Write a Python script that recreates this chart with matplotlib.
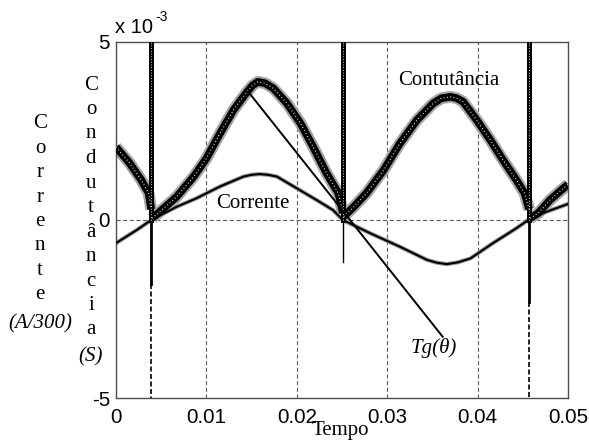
import numpy as np
import matplotlib
matplotlib.use("Agg")
import matplotlib.pyplot as plt

# ---------------- data (values in units of 1e-3) ----------------
# Conductance segments between spikes
g_t1 = [0.0000, 0.0015, 0.0028, 0.0036, 0.0039]
g_v1 = [2.05, 1.60, 1.12, 0.76, 0.30]
g_t2 = [0.0040, 0.0047, 0.0067, 0.0086, 0.0100, 0.0115, 0.0130, 0.0145, 0.0151, 0.0157,
        0.0165, 0.0174, 0.0189, 0.0204, 0.0218, 0.0233, 0.0246, 0.0251]
g_v2 = [0.05, 0.20, 0.65, 1.22, 1.73, 2.43, 3.09, 3.60, 3.78, 3.88,
        3.84, 3.70, 3.28, 2.72, 2.06, 1.31, 0.75, 0.20]
g_t3 = [0.0252, 0.0263, 0.0277, 0.0296, 0.0314, 0.0333, 0.0351, 0.0360, 0.0370, 0.0377,
        0.0384, 0.0399, 0.0414, 0.0428, 0.0443, 0.0452, 0.0457]
g_v3 = [0.10, 0.37, 0.75, 1.40, 2.15, 2.81, 3.28, 3.42, 3.46, 3.42,
        3.32, 2.81, 2.25, 1.69, 1.12, 0.75, 0.30]
g_t4 = [0.0458, 0.0467, 0.0480, 0.0499, 0.0500]
g_v4 = [0.05, 0.19, 0.56, 0.98, 1.00]

# Spikes of the conductance at current zero crossings
spike_t = [0.0039, 0.0251, 0.0457]
spike_solid_low = [-1.8, -1.17, -2.3]
spike_dash_low = [-5.0, None, -5.0]

# Current (A/300)
i_t = [0.0000, 0.0023, 0.0039, 0.0067, 0.0089, 0.0115, 0.0141, 0.0150, 0.0159, 0.0168,
       0.0178, 0.0200, 0.0222, 0.0240, 0.0251, 0.0281, 0.0314, 0.0344, 0.0355, 0.0366,
       0.0378, 0.0392, 0.0417, 0.0443, 0.0456, 0.0476, 0.0500]
i_v = [-0.65, -0.28, 0.00, 0.37, 0.61, 0.94, 1.22, 1.27, 1.29, 1.27,
       1.22, 0.89, 0.56, 0.28, 0.00, -0.37, -0.75, -1.12, -1.20, -1.24,
       -1.19, -1.08, -0.65, -0.23, 0.00, 0.23, 0.45]

# Tangent line
tg_t = [0.01464, 0.03614]
tg_v = [3.60, -3.28]

x_ticks = [0, 0.01, 0.02, 0.03, 0.04, 0.05]
x_tick_labels = ["0", "0.01", "0.02", "0.03", "0.04", "0.05"]
y_ticks = [-5, 0, 5]
y_tick_labels = ["-5", "0", "5"]

# ---------------- figure ----------------
W, H = 589, 443
fig = plt.figure(figsize=(W / 100, H / 100), dpi=100)
L, R, T, B = 116, 568, 42, 398
ax = fig.add_axes([L / W, 1 - B / H, (R - L) / W, (B - T) / H])
ax.set_xlim(0, 0.05)
ax.set_ylim(-5, 5)

serif = "Liberation Serif"
sans = "Liberation Sans"

gridc = "0.35"
for xv in [0.01, 0.02, 0.03, 0.04]:
    ax.axvline(xv, color=gridc, lw=0.8, ls=(0, (3.6, 2.4)), zorder=1)
ax.axhline(0, color=gridc, lw=0.8, ls=(0, (3.6, 2.4)), zorder=1)

# conductance (thick noisy-looking band)
for tt, vv in [(g_t1, g_v1), (g_t2, g_v2), (g_t3, g_v3), (g_t4, g_v4)]:
    ax.plot(tt, vv, color="0.65", lw=8.5, solid_capstyle="butt", zorder=2)
    ax.plot(tt, vv, color="black", lw=5.5, solid_capstyle="butt", zorder=3)
    ax.plot(tt, vv, color="white", lw=0.8, ls=(0, (0.8, 2.2)), zorder=4)

# spikes
for st, sl, dl in zip(spike_t, spike_solid_low, spike_dash_low):
    ax.plot([st, st], [0, 5.2], color="black", lw=3.6, zorder=3)
    ax.plot([st, st], [0, 5.2], color="white", lw=0.7, ls=(0, (0.8, 2)), zorder=4)
    ax.plot([st, st], [0, sl], color="black", lw=2.0 if dl is not None else 1.0, zorder=3)
    if dl is not None:
        ax.plot([st, st], [sl, dl], color="black", lw=1.2, ls=(0, (3, 1.5)), zorder=3)

# current
ax.plot(i_t, i_v, color="0.6", lw=3.0, zorder=2)
ax.plot(i_t, i_v, color="black", lw=1.5, zorder=3)

# tangent
ax.plot(tg_t, tg_v, color="black", lw=1.4, zorder=5)

# in-plot labels
ax.text(0.01515, 0.34, "Corrente", family=serif, fontsize=15, ha="center", va="baseline", zorder=6)
ax.text(0.03684, 3.79, "Contutância", family=serif, fontsize=15, ha="center", va="baseline", zorder=6)
ax.text(0.03518, -3.74, "Tg(θ)", family=serif, fontsize=15, style="italic", ha="center", va="baseline", zorder=6)

# axes styling
for s in ax.spines.values():
    s.set_color("0.3")
    s.set_linewidth(1.0)
ax.set_xticks(x_ticks)
ax.set_xticklabels(x_tick_labels, family=sans, fontsize=14.8)
ax.set_yticks(y_ticks)
ax.set_yticklabels(y_tick_labels, family=sans, fontsize=14.8)
ax.tick_params(direction="in", length=0, colors="black")
ax.tick_params(axis="x", pad=7.5)
ax.tick_params(axis="y", pad=4.3)

def fx(px):
    return px / W

def fy(py):
    return 1 - py / H

# exponent
fig.text(fx(115), fy(33), "x 10", family=sans, fontsize=14.5, ha="left", va="baseline")
fig.text(fx(155), fy(21), "-3", family=sans, fontsize=10, ha="left", va="baseline")

# vertical stacked y labels
col1 = list("Corrente")
for k, ch in enumerate(col1):
    fig.text(fx(40), fy(128.5 + 24.4 * k), ch, family=serif, fontsize=15, ha="center", va="baseline")
fig.text(fx(40), fy(328), "(A/300)", family=serif, fontsize=15, style="italic", ha="center", va="baseline")

col2 = list("Condutância")
for k, ch in enumerate(col2):
    fig.text(fx(91), fy(89.5 + 24.5 * k), ch, family=serif, fontsize=15, ha="center", va="baseline")
fig.text(fx(90.5), fy(361), "(S)", family=serif, fontsize=15, style="italic", ha="center", va="baseline")

# x label
fig.text(fx(340), fy(435), "Tempo", family=serif, fontsize=15, ha="center", va="baseline")

fig.savefig("out.png", dpi=100)
